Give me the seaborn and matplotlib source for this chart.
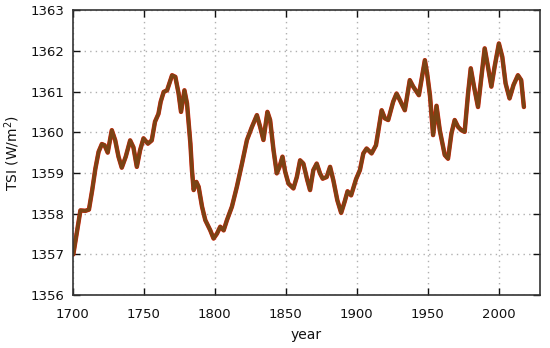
import numpy as np
import pandas as pd
import matplotlib
matplotlib.use('Agg')
import matplotlib.pyplot as plt
import seaborn as sns

# ── данные ────────────────────────────────────────────────────────────────────
years = [1700.5, 1705.5, 1709, 1711.5, 1713.8, 1716, 1718.3, 1720.6, 1722.5, 1724.7,
         1727.6, 1730, 1732.3, 1734.6, 1737.4, 1740.5, 1742.8, 1745.2, 1747.5, 1749.9,
         1753, 1755.7, 1758, 1760.4, 1762, 1764.1, 1766.5, 1770, 1772.3, 1774.6,
         1776.3, 1778.7, 1780.5, 1782.9, 1784, 1785.2, 1787.1, 1788.7, 1791.1, 1793.4,
         1796.9, 1799.2, 1801.6, 1803.9, 1806.3, 1808.6, 1812.1, 1815.6, 1819.2, 1822.7,
         1826.2, 1829.7, 1832, 1834.3, 1837.1, 1839, 1841.4, 1843.7, 1845.6, 1847.7,
         1849.6, 1851.9, 1855.4, 1857.8, 1860.1, 1862.4, 1865.2, 1867.1, 1869.4, 1871.8,
         1874.1, 1876, 1878.8, 1881.2, 1883.5, 1886.3, 1889, 1891.5, 1893.5, 1896,
         1899.5, 1902.2, 1904.6, 1906.9, 1910.4, 1913.5, 1917.5, 1919.8, 1922.1, 1925.6,
         1928, 1930.3, 1933.8, 1937.3, 1939.7, 1943.7, 1947.9, 1949.5, 1951.5, 1953.7,
         1956.1, 1958.4, 1961.9, 1964.2, 1966.6, 1968.9, 1971.3, 1973.6, 1975.9, 1978.3,
         1980.2, 1982.5, 1985.3, 1987.7, 1990, 1992.3, 1994.7, 1997, 2000, 2002.4,
         2004.7, 2007.5, 2010.3, 2013.4, 2015.7, 2017.6]
tsi = [1357.0, 1358.08, 1358.07, 1358.1, 1358.58, 1359.1, 1359.52, 1359.71, 1359.68, 1359.5,
       1360.05, 1359.8, 1359.4, 1359.13, 1359.4, 1359.8, 1359.63, 1359.15, 1359.56, 1359.85,
       1359.72, 1359.8, 1360.26, 1360.45, 1360.75, 1360.99, 1361.03, 1361.40, 1361.36, 1360.95,
       1360.5, 1361.03, 1360.71, 1359.72, 1359.07, 1358.58, 1358.78, 1358.66, 1358.17, 1357.84,
       1357.59, 1357.39, 1357.51, 1357.68, 1357.59, 1357.84, 1358.17, 1358.66, 1359.23, 1359.81,
       1360.13, 1360.42, 1360.13, 1359.81, 1360.5, 1360.30, 1359.56, 1358.99, 1359.15, 1359.40,
       1359.03, 1358.74, 1358.62, 1358.90, 1359.31, 1359.23, 1358.82, 1358.58, 1359.07, 1359.23,
       1358.99, 1358.86, 1358.90, 1359.15, 1358.82, 1358.33, 1358.02, 1358.3, 1358.55, 1358.45,
       1358.85, 1359.07, 1359.48, 1359.60, 1359.48, 1359.68, 1360.54, 1360.34, 1360.30, 1360.75,
       1360.95, 1360.79, 1360.54, 1361.28, 1361.12, 1360.91, 1361.77, 1361.44, 1360.9, 1359.93,
       1360.65, 1360.05, 1359.44, 1359.35, 1359.97, 1360.30, 1360.13, 1360.05, 1360.01, 1360.95,
       1361.57, 1361.12, 1360.62, 1361.36, 1362.06, 1361.61, 1361.12, 1361.61, 1362.18, 1361.85,
       1361.2, 1360.83, 1361.16, 1361.40, 1361.28, 1360.62]

x_ticks = [1700, 1750, 1800, 1850, 1900, 1950, 2000]
y_ticks = [1356, 1357, 1358, 1359, 1360, 1361, 1362, 1363]

df = pd.DataFrame({'year': years, 'tsi': tsi})

sns.set_style('ticks')
plt.rcParams['font.family'] = ['DejaVu Sans']

fig = plt.figure(figsize=(5.5, 3.48), dpi=100)
ax = fig.add_axes([0.132, 0.152, 0.850, 0.819])

# тонкая красная подложка + коричневая линия поверх
sns.lineplot(data=df, x='year', y='tsi', ax=ax, color='#d8200c', lw=3.2)
sns.lineplot(data=df, x='year', y='tsi', ax=ax, color='#7a4314', lw=2.6)

ax.set_xlim(1700, 2029); ax.set_ylim(1356, 1363)
ax.set_xticks(x_ticks); ax.set_yticks(y_ticks)
ax.grid(True, color='#b0b0b0', linestyle=(0, (1, 3)), lw=1.0)
ax.tick_params(direction='in', length=5, width=1, top=True, right=True,
               labelsize=9.5, colors='#111111', pad=6)
ax.tick_params(axis='x', labeltop=False, pad=9)
ax.tick_params(axis='y', labelright=False)
for s in ax.spines.values():
    s.set_linewidth(1.2); s.set_color('#333333')

ax.set_xlabel('year', fontsize=10, color='#111111', labelpad=5)
ax.set_ylabel('TSI (W/m$^2$)', fontsize=10, color='#111111', labelpad=6)

fig.savefig('out.png', dpi=100)
plt.close(fig)
